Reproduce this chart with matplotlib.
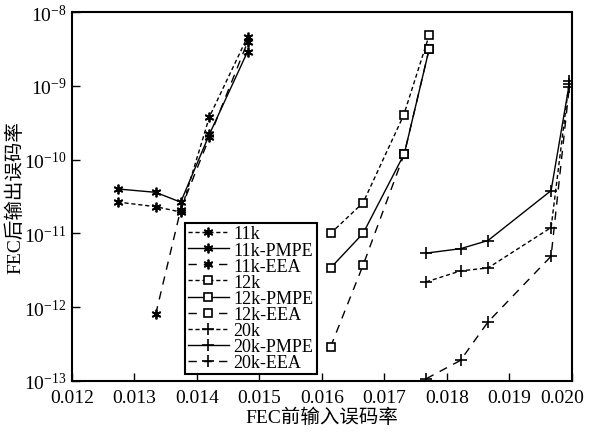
import matplotlib
matplotlib.use('Agg')
import matplotlib.pyplot as plt
import matplotlib.transforms as mtransforms
import numpy as np

plt.rcParams['font.family'] = ['Liberation Serif', 'Noto Sans CJK SC']
plt.rcParams['mathtext.fontset'] = 'stix'
plt.rcParams['font.size'] = 13

# 11k
x_11k = [0.01273, 0.01334, 0.01374, 0.0142, 0.01481]
y_11k = [2.66e-11, 2.3e-11, 1.95e-11, 3.8e-10, 4.6e-9]
x_11k_pmpe = [0.01273, 0.01334, 0.01374, 0.0142, 0.01481]
y_11k_pmpe = [4.0e-11, 3.6e-11, 2.65e-11, 2.2e-10, 2.9e-9]
x_11k_eea = [0.01334, 0.01374, 0.0142, 0.01481]
y_11k_eea = [8.0e-13, 2.1e-11, 2.0e-10, 3.9e-9]

# 12k
x_12k = [0.01614, 0.01666, 0.01731, 0.01772]
y_12k = [1.0e-11, 2.6e-11, 4.0e-10, 4.9e-9]
x_12k_pmpe = [0.01614, 0.01666, 0.01732, 0.01772]
y_12k_pmpe = [3.4e-12, 1.0e-11, 1.2e-10, 3.2e-9]
x_12k_eea = [0.01614, 0.01666, 0.01732, 0.01772]
y_12k_eea = [2.9e-13, 3.7e-12, 1.2e-10, 3.2e-9]

# 20k
x_20k = [0.01767, 0.01822, 0.01866, 0.01967, 0.01996]
y_20k = [2.2e-12, 3.1e-12, 3.4e-12, 1.2e-11, 1.15e-9]
x_20k_pmpe = [0.01767, 0.01822, 0.01866, 0.01967, 0.01996]
y_20k_pmpe = [5.4e-12, 6.2e-12, 8.0e-12, 3.8e-11, 1.05e-9]
x_20k_eea = [0.01767, 0.01822, 0.01866, 0.01967, 0.01996]
y_20k_eea = [1.07e-13, 1.9e-13, 6.3e-13, 4.9e-12, 9.5e-10]

short = (0, (3, 2))
longd = (0, (6, 5))
ast = (6, 2, 0)

fig = plt.figure(figsize=(5.9, 4.35), dpi=100)
ax = fig.add_axes([0.122, 0.122, 0.847, 0.848])

ax.plot(x_11k, y_11k, color='k', lw=1, ls=short, marker=ast, ms=7, mew=1.3, label='11k')
ax.plot(x_11k_pmpe, y_11k_pmpe, color='k', lw=1, ls='-', marker=ast, ms=7, mew=1.3, label='11k-PMPE')
ax.plot(x_11k_eea, y_11k_eea, color='k', lw=1, ls=longd, marker=ast, ms=7, mew=1.3, label='11k-EEA')
ax.plot(x_12k, y_12k, color='k', lw=1, ls=short, marker='s', ms=5.5, mfc='white', mew=1.2, label='12k')
ax.plot(x_12k_pmpe, y_12k_pmpe, color='k', lw=1, ls='-', marker='s', ms=5.5, mfc='white', mew=1.2, label='12k-PMPE')
ax.plot(x_12k_eea, y_12k_eea, color='k', lw=1, ls=longd, marker='s', ms=5.5, mfc='white', mew=1.2, label='12k-EEA')
ax.plot(x_20k, y_20k, color='k', lw=1, ls=short, marker='+', ms=9, mew=1.2, label='20k')
ax.plot(x_20k_pmpe, y_20k_pmpe, color='k', lw=1, ls='-', marker='+', ms=9, mew=1.2, label='20k-PMPE')
ax.plot(x_20k_eea, y_20k_eea, color='k', lw=1, ls=longd, marker='+', ms=9, mew=1.2, label='20k-EEA')

ax.set_yscale('log')
ax.set_xlim(0.012, 0.020)
ax.set_ylim(1e-13, 1e-8)
ax.set_xticks(np.arange(0.012, 0.0201, 0.001))
ax.set_xticklabels(['%.3f' % v for v in np.arange(0.012, 0.0201, 0.001)])
ax.set_yticks([1e-13, 1e-12, 1e-11, 1e-10, 1e-9, 1e-8])
ax.yaxis.set_minor_locator(matplotlib.ticker.NullLocator())
ax.tick_params(axis='x', direction='in', length=6, width=1, labelsize=14, pad=6)
ax.tick_params(axis='y', direction='in', length=6, width=1, labelsize=14, pad=4)
for s in ax.spines.values():
    s.set_linewidth(1.5)

# last x label sits a bit left so it stays inside the figure
last = ax.get_xticklabels()[-1]
last.set_transform(last.get_transform() + mtransforms.ScaledTranslation(-7 / 72, 0, fig.dpi_scale_trans))

ax.set_xlabel('FEC前输入误码率', fontsize=14, labelpad=1)
ax.set_ylabel('FEC后输出误码率', fontsize=14, labelpad=0)

leg = ax.legend(loc='lower left', bbox_to_anchor=(0.226, 0.019), borderaxespad=0,
                fontsize=13, labelspacing=-0.05, borderpad=0.15, handlelength=2.3,
                handletextpad=0.25, fancybox=False, edgecolor='k', framealpha=1)
leg.get_frame().set_linewidth(1.5)

fig.savefig('out.png', dpi=100)
